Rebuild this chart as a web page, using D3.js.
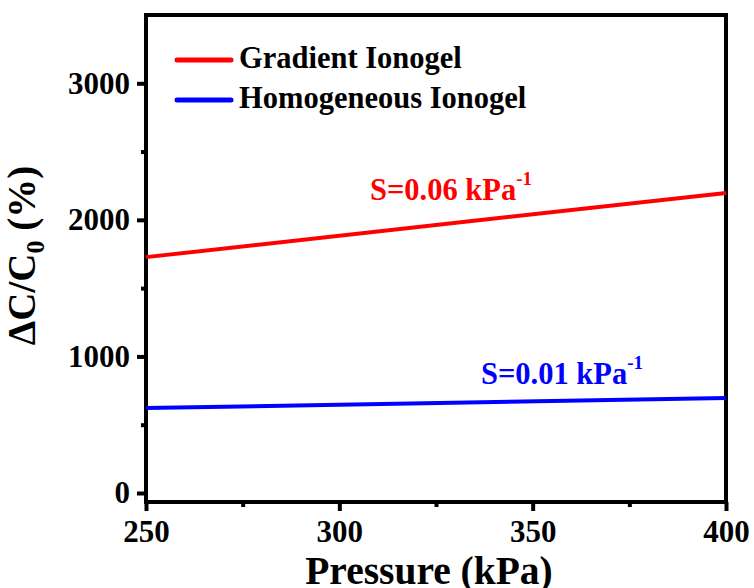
<!DOCTYPE html>
<html>
<head>
<meta charset="utf-8">
<script src="https://cdn.jsdelivr.net/npm/d3@7"></script>
<style>
  body { margin: 0; background: #fff; }
</style>
</head>
<body>
<div id="chart"></div>
<script>
// series: pressure (kPa) vs relative capacitance change (%)
const pressure = [250, 400];
const gradientVals = [1727, 2197];
const homogeneousVals = [622, 695];
const seriesNames = ["Gradient Ionogel", "Homogeneous Ionogel"];
const seriesColors = ["#ff0000", "#0000ff"];
const xTicks = [250, 300, 350, 400];
const yTicks = [0, 1000, 2000, 3000];

const font = "'Liberation Serif', 'Times New Roman', Times, serif";

let svgWidth = 754, svgHeight = 588;
let margins = {left: 146, top: 15, right: 28, bottom: 86},
    width = svgWidth - margins.left - margins.right,
    height = svgHeight - margins.top - margins.bottom;

let x = d3.scaleLinear().domain([250, 400]).range([0, width]),
    y = d3.scaleLinear().domain([-66, 3500]).range([height, 0]);

let svg = d3.select("#chart").append("svg")
    .attr("width", svgWidth)
    .attr("height", svgHeight)
    .append("g")
    .attr("transform", `translate(${margins.left}, ${margins.top})`);

//frame
svg.append("rect")
    .attr("width", width)
    .attr("height", height)
    .attr("fill", "none")
    .attr("stroke", "#000")
    .attr("stroke-width", 4);

//x axis with minor ticks
svg.append("g")
    .attr("transform", `translate(0, ${height})`)
    .call(d3.axisBottom(x).tickValues(xTicks).tickSize(9).tickPadding(9).tickFormat(d3.format("d")));
svg.append("g")
    .attr("transform", `translate(0, ${height})`)
    .call(d3.axisBottom(x).tickValues([275, 325, 375]).tickSize(5).tickFormat(""));

//y axis with minor ticks
svg.append("g")
    .call(d3.axisLeft(y).tickValues(yTicks).tickSize(9).tickPadding(7).tickFormat(d3.format("d")));
svg.append("g")
    .call(d3.axisLeft(y).tickValues([500, 1500, 2500]).tickSize(5).tickFormat(""));

svg.selectAll(".domain").remove();
svg.selectAll(".tick line").attr("stroke", "#000").attr("stroke-width", 4);
svg.selectAll(".tick text").attr("fill", "#000").style("font-size", "31px");

//lines
let line = d3.line().x((d, i) => x(pressure[i])).y(d => y(d));
[gradientVals, homogeneousVals].forEach((vals, i) => {
    svg.append("path")
        .attr("d", line(vals))
        .attr("fill", "none")
        .attr("stroke", seriesColors[i])
        .attr("stroke-width", 4);
});

//legend
seriesNames.forEach((name, i) => {
    let ly = 45 + i * 40;
    svg.append("line")
        .attr("x1", 31).attr("x2", 85)
        .attr("y1", ly).attr("y2", ly)
        .attr("stroke", seriesColors[i])
        .attr("stroke-width", 5)
        .attr("stroke-linecap", "round");
    svg.append("text")
        .attr("x", 93).attr("y", ly + 8)
        .style("font-size", "30.5px")
        .attr("fill", "#000")
        .text(name);
});

//slope annotations
function slopeLabel(px, py, label, color) {
    let t = svg.append("text")
        .attr("x", px).attr("y", py)
        .attr("fill", color)
        .style("font-size", "30.5px");
    t.append("tspan").text(label);
    t.append("tspan").attr("dy", -15).style("font-size", "19px").text("-1");
}
slopeLabel(224, 185, "S=0.06 kPa", seriesColors[0]);
slopeLabel(335, 369, "S=0.01 kPa", seriesColors[1]);

//axis titles
svg.append("text")
    .attr("x", width / 2 - 7)
    .attr("y", height + 82)
    .attr("text-anchor", "middle")
    .style("font-size", "39.5px")
    .text("Pressure (kPa)");

let yt = svg.append("text")
    .attr("transform", `translate(-111, ${height / 2 - 3}) rotate(-90)`)
    .attr("text-anchor", "middle")
    .style("font-size", "39px");
yt.append("tspan").text("\u0394C/C");
yt.append("tspan").attr("dy", 9).style("font-size", "26px").text("0");
yt.append("tspan").attr("dy", -9).text(" (%)");

svg.selectAll("text")
    .style("font-family", font)
    .style("font-weight", "bold");
</script>
</body>
</html>
